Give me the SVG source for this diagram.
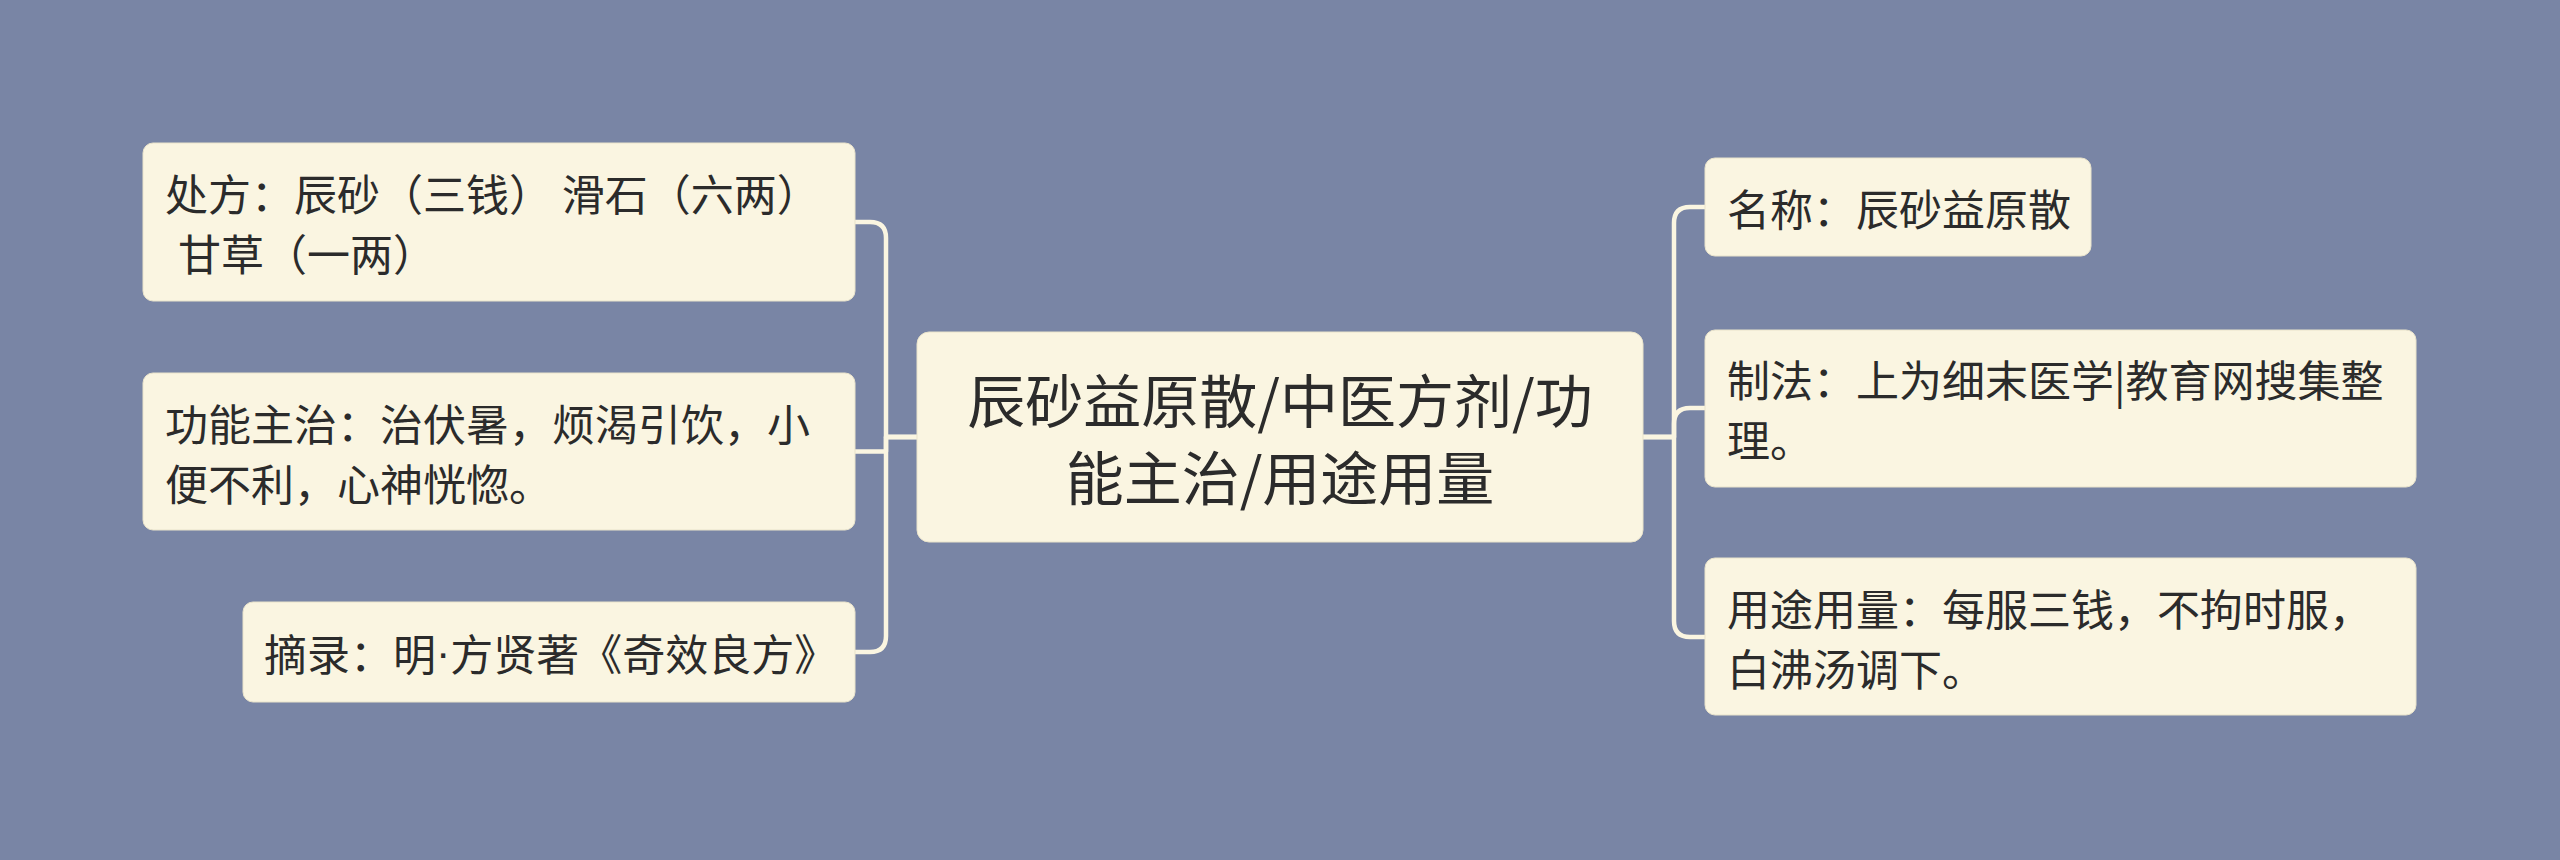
<svg xmlns="http://www.w3.org/2000/svg" width="2560" height="860" viewBox="0 0 2560 860">
<style>
.bg{fill:#7985A5}
.node rect{fill:#FAF5E1;stroke:#E9E3CB;stroke-width:1}
.node text{font-family:"Noto Sans CJK SC","Noto Sans",sans-serif;fill:#2B2B2B;dominant-baseline:central}
.sub text{font-size:43px}
.root text{font-size:58px;text-anchor:middle}
.latin{font-family:"Liberation Sans",sans-serif}
.conn path{fill:none;stroke:#FAF5E1;stroke-width:4.5;stroke-linejoin:round}
</style>
<rect class="bg" x="0" y="0" width="2560" height="860"/>
<g id="connectors" class="conn">
<path d="M917,437 H886 V238 Q886,222 870,222 H855"/>
<path d="M917,437 H886 V451.5 H855"/>
<path d="M917,437 H886 V636 Q886,652 870,652 H855"/>
<path d="M1643,437 H1674 V223 Q1674,207 1690,207 H1705"/>
<path d="M1643,437 H1674 V424 Q1674,408 1690,408 H1705"/>
<path d="M1643,437 H1674 V621 Q1674,637 1690,637 H1705"/>
</g>
<g id="root" class="node root">
<rect x="917" y="332" width="726" height="210" rx="12"/>
<text x="1280" y="398">辰砂益原散/中医方剂/功</text>
<text x="1280" y="475">能主治/用途用量</text>
</g>
<g id="node-chufang" class="node sub">
<rect x="143" y="143" width="712" height="158" rx="10"/>
<text x="165" y="192">处方：辰砂（三钱） 滑石（六两）</text>
<text x="178" y="252">甘草（一两）</text>
</g>
<g id="node-gongneng" class="node sub">
<rect x="143" y="373" width="712" height="157" rx="10"/>
<text x="165" y="422">功能主治：治伏暑，烦渴引饮，小</text>
<text x="165" y="482">便不利，心神恍惚。</text>
</g>
<g id="node-zhailu" class="node sub">
<rect x="243" y="602" width="612" height="100" rx="10"/>
<text x="264" y="652">摘录：明<tspan class="latin">·</tspan>方贤著《奇效良方》</text>
</g>
<g id="node-mingcheng" class="node sub">
<rect x="1705" y="158" width="386" height="98" rx="10"/>
<text x="1727" y="207">名称：辰砂益原散</text>
</g>
<g id="node-zhifa" class="node sub">
<rect x="1705" y="330" width="711" height="157" rx="10"/>
<text x="1727" y="378">制法：上为细末医学|教育网搜集整</text>
<text x="1727" y="438">理。</text>
</g>
<g id="node-yongtu" class="node sub">
<rect x="1705" y="558" width="711" height="157" rx="10"/>
<text x="1727" y="607">用途用量：每服三钱，不拘时服，</text>
<text x="1727" y="667">白沸汤调下。</text>
</g>
</svg>
